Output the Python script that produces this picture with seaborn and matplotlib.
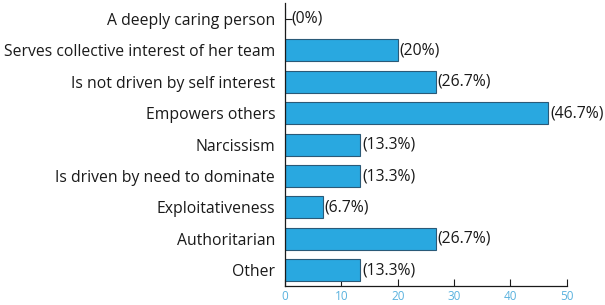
import matplotlib
matplotlib.use("Agg")
import matplotlib.pyplot as plt
import pandas as pd
import seaborn as sns

# ── Data ──────────────────────────────────────────────────────────────────────
categories = [
    "A deeply caring person",
    "Serves collective interest of her team",
    "Is not driven by self interest",
    "Empowers others",
    "Narcissism",
    "Is driven by need to dominate",
    "Exploitativeness",
    "Authoritarian",
    "Other",
]
percent = [0, 20, 26.7, 46.7, 13.3, 13.3, 6.7, 26.7, 13.3]
bar_labels = ["(0%)", "(20%)", "(26.7%)", "(46.7%)", "(13.3%)",
              "(13.3%)", "(6.7%)", "(26.7%)", "(13.3%)"]
x_ticks = [0, 10, 20, 30, 40, 50]

df = pd.DataFrame({"category": categories, "percent": percent})

# ── Plot ──────────────────────────────────────────────────────────────────────
sns.set_style("white")
plt.rcParams["font.family"] = ["Open Sans", "DejaVu Sans"]

fig = plt.figure(figsize=(6.05, 3.05), dpi=100)
ax = fig.add_axes([0.471, 0.062, 0.466, 0.928])

sns.barplot(
    data=df, x="percent", y="category", orient="h",
    color="#29a8e0", edgecolor="#2a5a78", linewidth=0.8,
    width=0.7, saturation=1, ax=ax,
)

for i, (v, lab) in enumerate(zip(percent, bar_labels)):
    ax.text(v + 0.35 if v else 1.2, i, lab, va="center", ha="left",
            fontsize=11.3, color="#1a1a1a")

ax.set_xlim(0, 50)
ax.set_ylim(8.5, -0.5)
ax.set_xticks(x_ticks)
ax.set_xlabel("")
ax.set_ylabel("")
ax.tick_params(axis="x", bottom=True, direction="in", length=5, width=0.8,
               colors="#1a1a1a", labelcolor="#5ab2de", labelsize=8.5, pad=3)
ax.tick_params(axis="y", left=True, direction="in", length=5, width=0.8,
               colors="#1a1a1a", labelsize=11.3, pad=7)
for lbl in ax.get_yticklabels():
    lbl.set_color("#1a1a1a")

sns.despine(ax=ax, top=True, right=True)
ax.spines["left"].set_color("#1a1a1a")
ax.spines["bottom"].set_color("#1a1a1a")
ax.spines["left"].set_linewidth(0.9)
ax.spines["bottom"].set_linewidth(0.9)

plt.savefig("out.png", dpi=100)
plt.close()
